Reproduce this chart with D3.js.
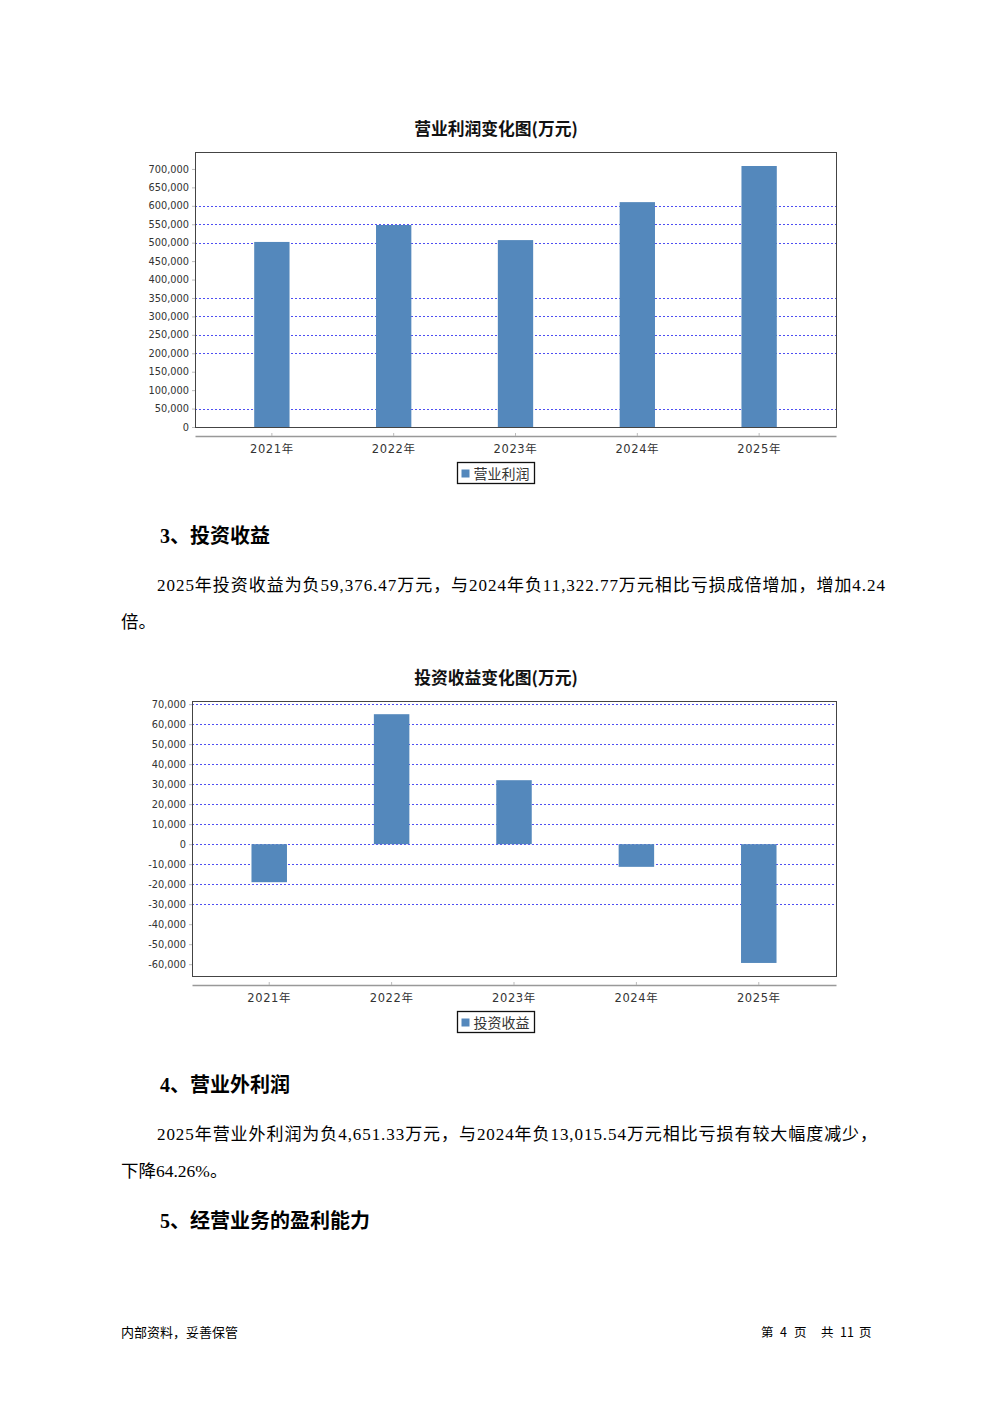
<!DOCTYPE html>
<html>
<head>
<meta charset="utf-8">
<script src="https://cdn.jsdelivr.net/npm/d3@7"></script>
<style>
  html, body { margin: 0; padding: 0; background: #fff; }
  svg { display: block; }
</style>
</head>
<body>
<svg id="page" width="992" height="1403"></svg>
<script>
// ---------- data ----------
const categories = ["2021年", "2022年", "2023年", "2024年", "2025年"];

const profitTitle = "营业利润变化图(万元)";
const profitSeriesName = "营业利润";
const profitValues = [502000, 548000, 507000, 610000, 708000];
const profitTicks = [0, 50000, 100000, 150000, 200000, 250000, 300000, 350000, 400000, 450000, 500000, 550000, 600000, 650000, 700000];
const profitGrid = [50000, 200000, 250000, 300000, 350000, 500000, 550000, 600000];

const investTitle = "投资收益变化图(万元)";
const investSeriesName = "投资收益";
const investValues = [-19000, 65000, 32000, -11322.77, -59376.47];
const investTicks = [-60000, -50000, -40000, -30000, -20000, -10000, 0, 10000, 20000, 30000, 40000, 50000, 60000, 70000];
const investGrid = [-30000, -20000, -10000, 0, 10000, 20000, 30000, 40000, 50000, 60000, 70000];

const heading3 = "3、投资收益";
const para3 = ["2025年投资收益为负59,376.47万元，与2024年负11,322.77万元相比亏损成倍增加，增加4.24", "倍。"];
const heading4 = "4、营业外利润";
const para4 = ["2025年营业外利润为负4,651.33万元，与2024年负13,015.54万元相比亏损有较大幅度减少，", "下降64.26%。"];
const heading5 = "5、经营业务的盈利能力";
const footerLeft = "内部资料，妥善保管";
const footerRightParts = ["第", "4", "页", "共", "11", "页"];

// ---------- drawing ----------
const svg = d3.select("#page");
const BAR = "#5488BC";
const SANS = "'Noto Sans CJK SC', 'DejaVu Sans', sans-serif";
const AXISF = "'DejaVu Sans', 'Noto Sans CJK SC', sans-serif";
const SERIF = "'Liberation Serif', 'Noto Sans CJK SC', serif";
const fmt = d3.formatLocale({ decimal: ".", thousands: ",", grouping: [3], currency: ["", ""], minus: "-" }).format(",");

function drawChart(cfg) {
  const g = svg.append("g");
  const { left, right, top, bottom } = cfg;

  g.append("text")
    .attr("x", 496).attr("y", cfg.titleY)
    .attr("text-anchor", "middle")
    .attr("font-family", SANS).attr("font-weight", "bold")
    .attr("font-size", 16.8).attr("fill", "#111")
    .text(cfg.title);

  const x = d3.scaleBand().domain(categories).range([left, right])
    .paddingInner(0.71).paddingOuter(0.486);
  const y = d3.scaleLinear().domain(cfg.domain).range([bottom, top]);

  // gridlines
  g.append("g").selectAll("line").data(cfg.grid).join("line")
    .attr("x1", left).attr("x2", right)
    .attr("y1", d => Math.round(y(d)) + 0.5).attr("y2", d => Math.round(y(d)) + 0.5)
    .attr("stroke", "#3a3af0").attr("stroke-width", 0.9)
    .attr("stroke-dasharray", "2,2");

  // bars
  g.append("g").selectAll("rect").data(cfg.values).join("rect")
    .attr("x", (d, i) => x(categories[i]))
    .attr("width", x.bandwidth())
    .attr("y", d => y(Math.max(0, d)))
    .attr("height", d => Math.abs(y(d) - y(0)))
    .attr("fill", BAR);

  // plot border
  g.append("rect")
    .attr("x", left + 0.5).attr("y", top + 0.5)
    .attr("width", right - left).attr("height", bottom - top)
    .attr("fill", "none").attr("stroke", "#444").attr("stroke-width", 1);

  // y axis
  const yAxis = d3.axisLeft(y).tickValues(cfg.ticks).tickFormat(fmt).tickSize(3).tickPadding(3);
  const ya = g.append("g").attr("transform", `translate(${left},0)`).call(yAxis);
  ya.select(".domain").remove();
  ya.selectAll(".tick line").attr("stroke", "#bbb");
  ya.selectAll("text").attr("font-family", AXISF)
    .attr("font-size", 9.8).attr("fill", "#333");

  // x axis (separate line below the plot)
  const xAxis = d3.axisBottom(x).tickSize(-3).tickPadding(9).tickSizeOuter(0);
  const xa = g.append("g").attr("transform", `translate(0,${bottom + 9})`).call(xAxis);
  xa.select(".domain").attr("stroke", "#999").attr("stroke-width", 1.5);
  xa.selectAll(".tick line").attr("stroke", "#bbb");
  xa.selectAll("text").attr("font-family", AXISF)
    .attr("font-size", 11.5).attr("fill", "#333").attr("letter-spacing", 0.6);

  // legend
  const lg = g.append("g").attr("transform", `translate(457.5,${cfg.legendY + 0.5})`);
  lg.append("rect").attr("width", 77).attr("height", 21)
    .attr("fill", "#fff").attr("stroke", "#111").attr("stroke-width", 1.3);
  lg.append("rect").attr("x", 4).attr("y", 7).attr("width", 8).attr("height", 8).attr("fill", BAR);
  lg.append("text").attr("x", 16).attr("y", 16)
    .attr("font-family", SANS).attr("font-size", 14).attr("fill", "#333")
    .text(cfg.series);
}

drawChart({
  title: profitTitle, titleY: 135, series: profitSeriesName,
  left: 195, right: 836, top: 152, bottom: 427,
  domain: [0, 746000], values: profitValues, ticks: profitTicks, grid: profitGrid,
  legendY: 462
});

drawChart({
  title: investTitle, titleY: 684, series: investSeriesName,
  left: 192, right: 836, top: 701, bottom: 976,
  domain: [-65900, 71600], values: investValues, ticks: investTicks, grid: investGrid,
  legendY: 1011
});

// ---------- text ----------
function heading(txt, yPos) {
  svg.append("text").attr("x", 160).attr("y", yPos)
    .attr("font-family", SERIF).attr("font-weight", "bold")
    .attr("font-size", 20).attr("fill", "#000").text(txt);
}
function para(lines, yPos, width1) {
  svg.append("text").attr("x", 157).attr("y", yPos)
    .attr("font-family", SERIF).attr("font-size", 17).attr("fill", "#000")
    .attr("textLength", width1).attr("lengthAdjust", "spacing")
    .text(lines[0]);
  svg.append("text").attr("x", 121).attr("y", yPos + 37)
    .attr("font-family", SERIF).attr("font-size", 17.5).attr("fill", "#000")
    .text(lines[1]);
}

heading(heading3, 543);
para(para3, 591, 728);
heading(heading4, 1092);
para(para4, 1140, 720);
heading(heading5, 1228);

svg.append("text").attr("x", 121).attr("y", 1337)
  .attr("font-family", SANS).attr("font-size", 13).attr("fill", "#000").text(footerLeft);
const fr = svg.append("text").attr("y", 1337)
  .attr("font-family", SANS).attr("font-size", 12.5).attr("fill", "#000");
const frX = [761, 780, 794, 821, 840, 859];
fr.selectAll("tspan").data(footerRightParts).join("tspan")
  .attr("x", (d, i) => frX[i]).text(d => d);
</script>
</body>
</html>
